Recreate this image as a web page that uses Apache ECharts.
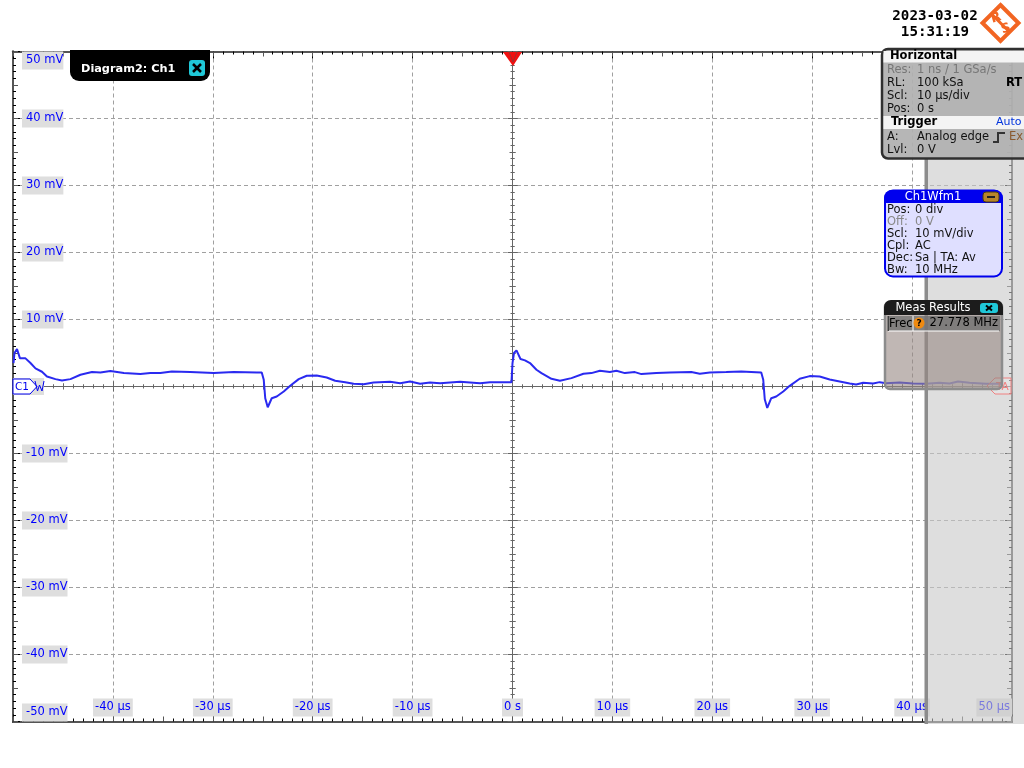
<!DOCTYPE html>
<html><head><meta charset="utf-8">
<style>html,body{margin:0;padding:0;background:#fff}#c{width:1024px;height:768px}</style>
<script src="https://cdn.jsdelivr.net/npm/echarts@6/dist/echarts.min.js"></script>
</head><body><div id="c"></div>
<script>
var timeUs = [-49.95,-49.85,-49.75,-49.6,-49.3,-49.1,-48.75,-48.25,-47.75,-47.1,-46.6,-45.75,-45.1,-44.25,-43.25,-42.1,-41.25,-40.25,-38.9,-37.25,-36.25,-35.25,-34.1,-32.25,-29.9,-27.9,-25.6,-25.1,-24.9,-24.75,-24.5,-24.1,-23.6,-22.9,-22.25,-21.4,-20.6,-19.6,-18.6,-17.75,-16.75,-15.9,-14.9,-13.9,-12.25,-11.25,-10.25,-9.25,-8.25,-7.25,-5.25,-3.25,-2.25,-0.1,0,0.15,0.4,0.8,1.25,1.75,2.4,2.9,3.9,4.75,5.9,7.1,7.9,8.75,9.75,10.4,11.25,12.25,12.9,14.4,15.75,17.9,18.75,19.75,21.4,22.9,24.9,25.1,25.25,25.5,25.9,26.4,27.1,27.75,28.75,29.75,30.75,31.75,32.75,33.75,34.4,35.1,36.1,36.75,37.4,38.75,40.1,41.4,42.75,43.75,44.6,45.75,47.4,49];
var ch1mV = [3.5,5.0,5.0,5.6,4.2,4.1,4.2,3.5,2.7,2.2,1.5,1.1,0.9,1.1,1.75,2.15,2.1,2.3,2.0,1.85,2.0,2.0,2.25,2.15,2.0,2.15,2.1,2.1,1.0,-1.75,-3.1,-1.75,-1.5,-0.75,0.1,1.1,1.6,1.65,1.35,0.85,0.65,0.4,0.35,0.6,0.7,0.5,0.75,0.4,0.6,0.5,0.7,0.5,0.65,0.65,3.5,5.0,5.4,4.1,3.9,3.5,2.5,2.0,1.15,0.85,1.25,1.9,2.0,2.35,2.15,2.35,2.0,2.15,1.85,2.0,2.1,2.15,1.9,2.1,2.15,2.25,2.1,1.0,-1.9,-3.2,-1.75,-1.5,-0.75,0.1,1.15,1.55,1.5,1.05,0.75,0.45,0.3,0.55,0.45,0.65,0.5,0.6,0.45,0.4,0.55,0.45,0.75,0.55,0.4,0.4];
var horizontalRows = [["Res:","1 ns / 1 GSa/s"],["RL:","100 kSa"],["Scl:","10 µs/div"],["Pos:","0 s"]];
var triggerRows = [["A:","Analog edge"],["Lvl:","0 V"]];
var waveRows = [["Pos:","0 div"],["Off:","0 V"],["Scl:","10 mV/div"],["Cpl:","AC"],["Dec:","Sa | TA: Av"],["Bw:","10 MHz"]];

var FONT = '"DejaVu Sans"';
var pts = timeUs.map(function(t,i){return [t,ch1mV[i]];});

function tickAxis(o){
  var a = {type:'value',min:o.min,max:o.max,interval:o.iv,position:o.pos,
    axisLine:{show:true,onZero:!!o.zero,lineStyle:{color:o.color,width:o.w||1}},
    axisTick:{show:true,inside:o.inside,length:o.len,lineStyle:{color:o.color}},
    axisLabel:{show:false},splitLine:{show:false}};
  if(o.minor){a.minorTick={show:true,splitNumber:o.minor,length:o.minorLen,lineStyle:{color:o.color}};}
  return a;
}
function axesFor(min,max,pLow,pHigh,maj){
  var list=[];
  [[pLow,'#000'],[pHigh,'#000']].forEach(function(b){
    list.push(tickAxis({min:min,max:max,iv:maj,pos:b[0],color:b[1],w:2,inside:true,len:7,minor:10,minorLen:3}));
    list.push(tickAxis({min:min,max:max,iv:maj/2,pos:b[0],color:'#555',w:2,inside:true,len:5}));
  });
  [true,false].forEach(function(ins){
    list.push(tickAxis({min:min,max:max,iv:maj,pos:ins?pLow:pHigh,zero:true,color:'#666',inside:false,len:5,minor:10,minorLen:2}));
    list.push(tickAxis({min:min,max:max,iv:maj/2,pos:ins?pLow:pHigh,zero:true,color:'#666',inside:false,len:3}));
  });
  return list;
}
var xAxes = axesFor(-50,50,'bottom','top',10);
xAxes.push(tickAxis({min:-50,max:50,iv:10,pos:'bottom',zero:true,color:'#666',inside:true,len:5,minor:10,minorLen:2}));
xAxes.push(tickAxis({min:-50,max:50,iv:5,pos:'bottom',zero:true,color:'#666',inside:true,len:3}));
var yAxes = axesFor(-50,50,'left','right',10);
yAxes.push(tickAxis({min:-50,max:50,iv:10,pos:'left',zero:true,color:'#666',inside:true,len:5,minor:10,minorLen:2}));
yAxes.push(tickAxis({min:-50,max:50,iv:5,pos:'left',zero:true,color:'#666',inside:true,len:3}));

var xMain = xAxes[0], yMain = yAxes[0];
var labelBox = {show:true,inside:true,color:'#0000ff',fontFamily:FONT,fontSize:11.5,backgroundColor:'#dedede'};
xMain.axisLabel = Object.assign({},labelBox,{margin:5,padding:[3,2,3,2],showMaxLabel:true,showMinLabel:false,alignMaxLabel:'right',
  formatter:function(v){return v===0?'0 s':v+' µs';}});
xMain.splitLine = {show:true,lineStyle:{color:'#a0a0a0',type:[4,3],width:1}};
yMain.axisLabel = Object.assign({},labelBox,{margin:9,padding:[3,0,3,4],showMaxLabel:true,showMinLabel:true,verticalAlignMaxLabel:'top',verticalAlignMinLabel:'bottom',
  formatter:function(v){return v===0?'':v+' mV';}});
yMain.splitLine = {show:true,lineStyle:{color:'#a0a0a0',type:[4,3],width:1}};

var g=[], z=20;
function rect(x,y,w,h,fill,stroke,r,lw){g.push({type:'rect',z:z++,silent:true,shape:{x:x,y:y,width:w,height:h,r:r||0},style:{fill:fill||'none',stroke:stroke||'none',lineWidth:lw||1}});}
function poly(points,fill,stroke,lw,open){g.push({type:open?'polyline':'polygon',z:z++,silent:true,shape:{points:points},style:{fill:fill||'none',stroke:stroke||'none',lineWidth:lw||1}});}
function txt(x,y,s,color,o){o=o||{};g.push({type:'text',z:z++,silent:true,rotation:o.rot||0,x:x,y:y,style:{text:s,fill:color||'#000',font:(o.weight||'normal')+' '+(o.size||11.5)+'px '+(o.fam||FONT),textAlign:o.align||'left',textVerticalAlign:'middle'}});}

rect(926,48,98,676,'rgba(200,200,200,0.6)');
rect(924.5,158,3.5,566,'#8c8c8c');

poly([[503,52],[522,52],[513,66]],'#f01010');
poly([[509,52],[513,62],[517,52]],'none','#a03030',1,true);

rect(13,378,31,17,'#dedede');
poly([[13,379],[30,379],[37,386.5],[30,394],[13,394]],'#fff','#0000ee',1);
txt(15,387,'C1','#0000ee',{size:10.5});
poly([[35,381],[37.5,391],[39.5,385],[42,391],[44,381]],'none','#0000ee',1,true);

poly([[987,386],[995,378],[1011,378],[1011,394],[995,394]],'rgba(255,255,255,0.15)','#f08080',1);
txt(996,387,'TA','#f08080',{size:10.5});

g.push({type:'rect',z:z++,silent:true,shape:{x:70,y:50,width:140,height:31,r:[0,0,9,9]},style:{fill:'#000'}});
txt(81,69,'Diagram2: Ch1','#fff',{weight:'bold',size:11.3});
rect(189,60,16,16,'#1fc8d8',null,3);
poly([[193,64],[201,72]],'none','#000',2.5,true);
poly([[201,64],[193,72]],'none','#000',2.5,true);

txt(935,16,'2023-03-02','#000',{fam:'"DejaVu Sans Mono"',size:14.2,align:'center',weight:'bold'});
txt(935,32,'15:31:19','#000',{fam:'"DejaVu Sans Mono"',size:14.2,align:'center',weight:'bold'});
poly([[1000.5,5],[1018.5,23],[1000.5,41],[982.5,23]],'none','#f26522',4);
poly([[991.5,14],[1009.5,32]],'none','#f26522',3,true);
txt(996,18,'R','#f26522',{size:13,align:'center',weight:'bold',rot:0.3});
txt(1006,29,'S','#f26522',{size:13,align:'center',weight:'bold',rot:0.3});

rect(882,49,150,109.5,'rgba(176,176,176,0.92)','#303030',6,2.5);
rect(883.5,51,141,11.5,'#f4f4f4');
txt(890,56.5,'Horizontal','#000',{weight:'bold',size:11.5});
horizontalRows.forEach(function(r,i){
  var c=i===0?'#777':'#111';
  txt(887,70.5+i*13,r[0],c);
  txt(917,70.5+i*13,r[1],c);
});
txt(1006,83.5,'RT','#000',{weight:'bold'});
rect(883.5,116,141,13,'#f4f4f4');
txt(891,122.5,'Trigger','#000',{weight:'bold'});
txt(996,122.5,'Auto','#0033dd',{size:11});
triggerRows.forEach(function(r,i){
  txt(887,137.5+i*13,r[0],'#111');
  txt(917,137.5+i*13,r[1],'#111');
});
poly([[993,142],[998,142],[998,133],[1005,133]],'none','#333',2,true);
txt(1009,137.5,'Ex','#8a5a30');

rect(885,190.5,117,86,'#dfdfff','#0000ee',8,2);
g.push({type:'rect',z:z++,silent:true,shape:{x:884,y:190,width:119,height:13,r:[8,8,0,0]},style:{fill:'#0000ee'}});
txt(933,197,'Ch1Wfm1','#fff',{align:'center'});
rect(983,192,16,10,'#b8862a','#4a3a10',3,1);
rect(987,196,8,2,'#222');
waveRows.forEach(function(r,i){
  var c=i===1?'#888':'#111';
  txt(887,210.5+i*12,r[0],c);
  txt(915,210.5+i*12,r[1],c);
});

rect(885,302,117,87,'rgba(150,135,130,0.6)','#8c8c8c',5,2.5);
rect(887,316,113,15,'rgba(110,110,110,0.75)');
poly([[888,331],[999,331]],'none','#fff',1,true);
poly([[888.5,316],[888.5,331]],'none','#444',1,true);
poly([[913,316],[913,331]],'none','#fff',1,true);
txt(889,324,'Frec','#000');
g.push({type:'circle',z:z++,silent:true,shape:{cx:919,cy:323,r:5.5},style:{fill:'#f08a10'}});
txt(919,323.5,'?','#000',{size:9,align:'center',weight:'bold'});
txt(998,323.5,'27.778 MHz','#000',{align:'right'});
g.push({type:'rect',z:z++,silent:true,shape:{x:884,y:300,width:119,height:15,r:[7,7,0,0]},style:{fill:'#1c1c1c'}});
txt(933,308,'Meas Results','#fff',{align:'center'});
rect(980,303,18,10,'#1fc8d8',null,3);
poly([[986,305.5],[992,310.5]],'none','#000',2,true);
poly([[992,305.5],[986,310.5]],'none','#000',2,true);

var chart = echarts.init(document.getElementById('c'),null,{renderer:'canvas'});
chart.setOption({
  animation:false,
  backgroundColor:'#fff',
  grid:{left:13,right:12,top:51.5,bottom:46.5,containLabel:false},
  xAxis:xAxes,
  yAxis:yAxes,
  series:[{type:'line',xAxisIndex:0,yAxisIndex:0,data:pts,showSymbol:false,symbol:'none',smooth:false,
    lineStyle:{color:'#2a2af0',width:2},z:5}],
  graphic:{elements:g}
});
</script></body></html>
